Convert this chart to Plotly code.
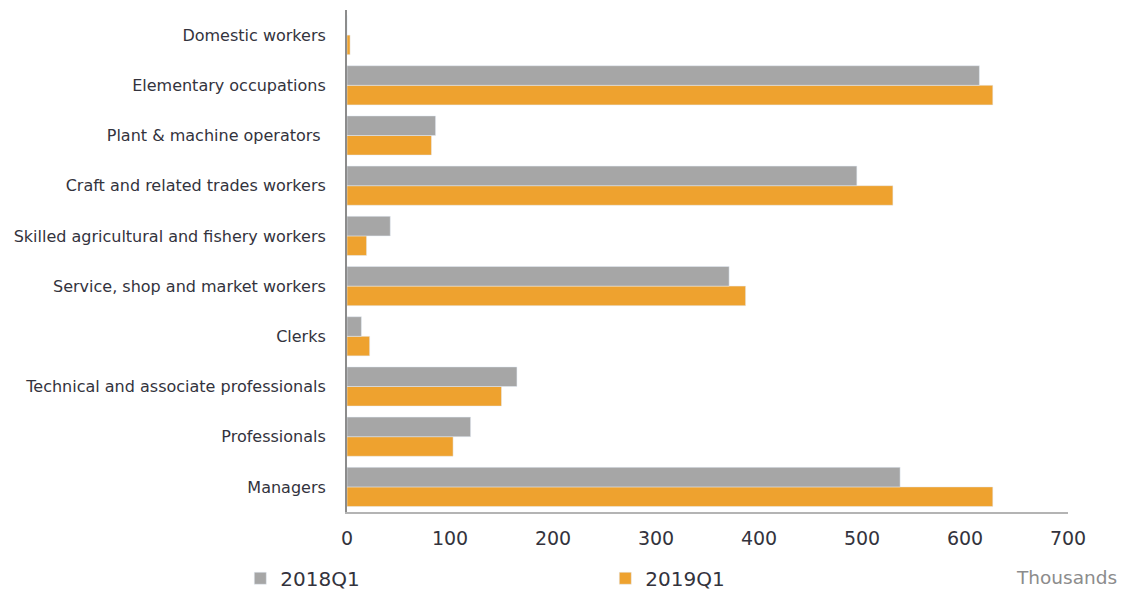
import plotly.graph_objects as go

categories = ["Managers", "Professionals", "Technical and associate professionals", "Clerks",
              "Service, shop and market workers", "Skilled agricultural and fishery workers",
              "Craft and related trades workers", "Plant & machine operators ",
              "Elementary occupations", "Domestic workers"]
y2018 = [537, 120, 165, 14, 371, 42, 495, 86, 614, 0]
y2019 = [627, 103, 150, 22, 387, 19, 530, 82, 627, 3]
xticks = [0, 100, 200, 300, 400, 500, 600, 700]

FONT = "DejaVu Sans, Open Sans, sans-serif"
TXT = "#33333d"

fig = go.Figure()
fig.add_trace(go.Bar(y=categories, x=y2019, name="2019Q1", orientation="h",
                     marker=dict(color="#EEA22F")))
fig.add_trace(go.Bar(y=categories, x=y2018, name="2018Q1", orientation="h",
                     marker=dict(color="#A6A6A6")))

fig.update_layout(
    width=1126, height=590,
    margin=dict(l=347, r=58, t=10, b=78, autoexpand=False),
    barmode="group", bargap=0.22, bargroupgap=0,
    plot_bgcolor="white", paper_bgcolor="white",
    font=dict(family=FONT, color=TXT),
    legend=dict(orientation="h", x=-0.148, xanchor="left", y=-0.132, yanchor="middle",
                font=dict(size=20, color=TXT, family=FONT), entrywidth=320,
                entrywidthmode="pixels", itemwidth=30, traceorder="reversed"),
    xaxis=dict(range=[0, 700], tickvals=xticks, ticktext=[str(v) for v in xticks],
               showgrid=False, zeroline=False, showline=True, linecolor="#B4B4B4", linewidth=2,
               tickfont=dict(size=19, color=TXT, family=FONT), ticks="outside", ticklen=8,
               tickcolor="rgba(0,0,0,0)"),
    yaxis=dict(showgrid=False, showline=True, linecolor="#8C8C8C", linewidth=2,
               tickfont=dict(size=16, color=TXT, family=FONT), ticks="outside", ticklen=16,
               tickcolor="rgba(0,0,0,0)", categoryorder="array", categoryarray=categories),
)
fig.add_annotation(text="Thousands", xref="paper", yref="paper", x=1.07, xanchor="right",
                   y=-0.13, yanchor="middle", showarrow=False, borderpad=0,
                   font=dict(size=18.5, color="#8C8C8C", family=FONT))
fig.write_html("out.html")
